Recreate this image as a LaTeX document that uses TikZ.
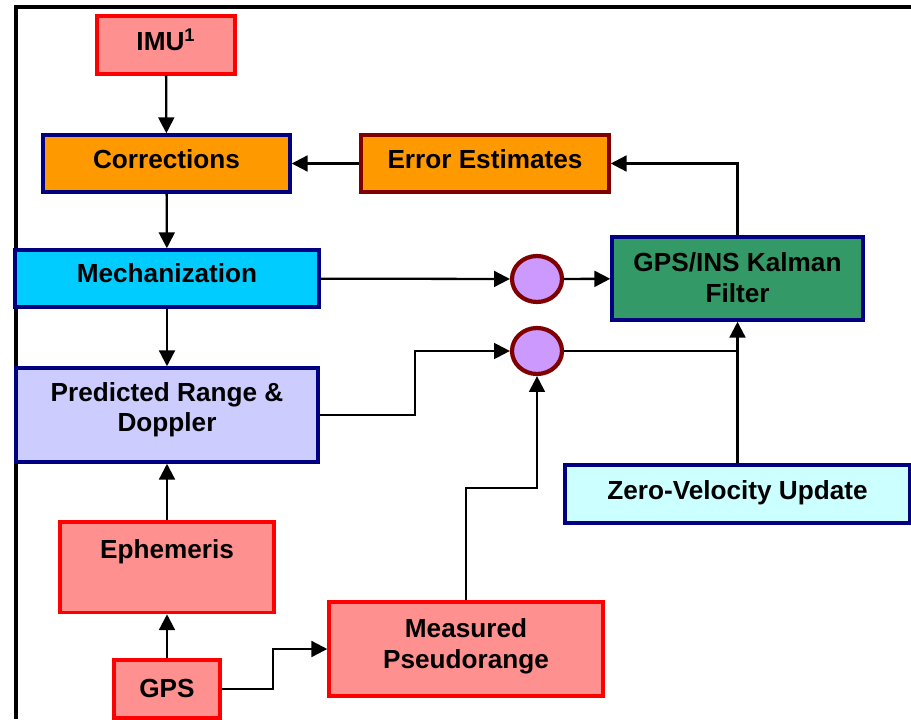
\documentclass[tikz,border=0pt]{standalone}
\usepackage{fontspec}
\setmainfont{Liberation Sans}
\usetikzlibrary{arrows.meta,shapes.geometric}

\definecolor{rojoclaro}{HTML}{FF9090}
\definecolor{naranja}{HTML}{FF9900}
\definecolor{marino}{HTML}{000080}
\definecolor{granate}{HTML}{800000}
\definecolor{celeste}{HTML}{00CCFF}
\definecolor{lavanda}{HTML}{CCCCFF}
\definecolor{verde}{HTML}{339966}
\definecolor{cianclaro}{HTML}{CCFFFF}
\definecolor{lila}{HTML}{CC99FF}

\begin{document}
\begin{tikzpicture}[x=0.02cm,y=-0.02cm,
    caja/.style={draw,line width=2pt,inner sep=2pt,align=center,
      text height=10.7pt,text depth=4.5pt,
      font=\bfseries\fontsize{14.9}{17.6}\selectfont},
    dosrenglones/.style={text height=28.3pt,text depth=#1},
    cajaroja/.style={caja,draw=red,fill=rojoclaro},
    cajaazul/.style={caja,draw=marino},
    suma/.style={ellipse,draw=granate,fill=lila,line width=2.4pt,
      minimum width=1cm,minimum height=0.92cm},
    flecha/.style={line width=1.3pt,-{Triangle[length=9pt,width=9pt]}},
    linea/.style={line width=1.3pt}]
    \useasboundingbox (0,0) rectangle (911,719);

    % marco
    \draw[line width=2pt] (911,7) -- (16,7) -- (16,719);

    % columna izquierda
    \node[cajaroja,minimum width=2.76cm,minimum height=1.16cm] (imu) at (166,45) {IMU\textsuperscript{1}};
    \node[cajaazul,fill=naranja,minimum width=4.94cm,minimum height=1.14cm] (corr) at (166.5,163.5) {Corrections};
    \node[cajaazul,fill=celeste,minimum width=6.08cm,minimum height=1.14cm,text depth=6.4pt] (mech) at (167,278.5) {Mechanization};
    \node[cajaazul,fill=lavanda,minimum width=6.04cm,minimum height=1.88cm,dosrenglones=9pt] (pred) at (167,415) {Predicted Range \&\\Doppler};
    \node[cajaroja,minimum width=4.28cm,text depth=20.95pt,inner ysep=10pt,anchor=north] (eph) at (167,520) {Ephemeris};
    \node[cajaroja,minimum width=2.12cm,minimum height=1.16cm,text depth=0.5pt] (gps) at (167,689) {GPS};

    % columna derecha
    \node[caja,draw=granate,fill=naranja,minimum width=4.96cm,minimum height=1.14cm] (err) at (485,163.5) {Error Estimates};
    \node[cajaazul,fill=verde,minimum width=5.02cm,minimum height=1.66cm,dosrenglones=1.2pt] (kal) at (737.5,278.5) {GPS/INS Kalman\\Filter};
    \node[cajaazul,fill=cianclaro,minimum width=6.9cm,minimum height=1.16cm] (zvu) at (737.5,494) {Zero-Velocity Update};
    \node[cajaroja,minimum width=5.48cm,minimum height=1.88cm,dosrenglones=6.2pt] (meas) at (466,649) {Measured\\Pseudorange};

    % sumadores
    \node[suma] (s1) at (537,279) {};
    \node[suma] (s2) at (537,351) {};

    % puntos de quiebre
    \coordinate (q1) at (415,351);
    \coordinate (q2) at (537,488);
    \coordinate (q3) at (273,649);

    % conexiones
    \draw[flecha] (imu) -- (corr);
    \draw[flecha] (corr) -- (mech);
    \draw[flecha] (mech) -- (pred);
    \draw[flecha] (eph) -- (pred);
    \draw[flecha] (gps) -- (eph);
    \draw[flecha] (err) -- (corr);
    \draw[flecha] (mech) -- (s1);
    \draw[flecha] (s1) -- (kal);
    \draw[flecha] (kal.north) |- (err.east);
    \draw[flecha] (pred.east) -| (q1) -- (s2.west);
    \draw[flecha] (meas.north) |- (q2) -- (s2.south);
    \draw[flecha] (zvu) -- (kal);
    \draw[linea] (s2.east) -- (s2.east -| kal.south);
    \draw[flecha] (gps.east) -| (q3) -- (meas.west);
\end{tikzpicture}
\end{document}
